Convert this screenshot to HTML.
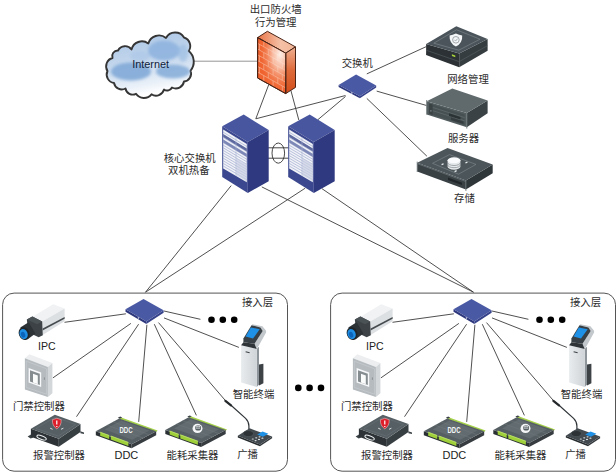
<!DOCTYPE html>
<html><head><meta charset="utf-8"><title>Network topology</title>
<style>
html,body{margin:0;padding:0;background:#fff;}
body{width:616px;height:472px;overflow:hidden;font-family:"Liberation Sans","Noto Sans CJK SC",sans-serif;}
svg{display:block;}
svg text{font-family:"Liberation Sans","Noto Sans CJK SC",sans-serif;}
</style></head><body>
<svg width="616" height="472" viewBox="0 0 616 472">
<defs><linearGradient id="cloudg" x1="0" y1="0" x2="0.25" y2="1"><stop offset="0" stop-color="#a9c5e5"/><stop offset="0.5" stop-color="#c3d6ec"/><stop offset="0.85" stop-color="#e9f0f8"/><stop offset="1" stop-color="#ffffff"/></linearGradient><clipPath id="cloudclip"><path d="M107.5,71.0 A8.6,8.6 0 0 1 112.5,58.0 A5.6,5.6 0 0 1 118.0,50.5 A7.9,7.9 0 0 1 131.5,49.5 A10.7,10.7 0 0 1 148.3,43.5 A11.1,11.1 0 0 1 166.0,38.0 A10.4,10.4 0 0 1 184.0,37.5 A8.9,8.9 0 0 1 188.7,51.0 A13.9,13.9 0 0 1 190.4,70.8 A7.7,7.7 0 0 1 184.0,81.5 A8.3,8.3 0 0 1 172.0,87.5 A5.4,5.4 0 0 1 164.0,89.5 A8.3,8.3 0 0 1 151.5,94.3 A9.6,9.6 0 0 1 136.0,93.8 A7.3,7.3 0 0 1 125.5,88.5 A7.9,7.9 0 0 1 114.0,83.0 A8.5,8.5 0 0 1 107.5,71.0 Z"/></clipPath><filter id="b2" x="-20%" y="-20%" width="140%" height="140%"><feGaussianBlur stdDeviation="1.6"/></filter><radialGradient id="fwhl" gradientUnits="userSpaceOnUse" cx="280" cy="54" r="34" gradientTransform="translate(280 54) scale(0.62 1.15) translate(-280 -54)"><stop offset="0" stop-color="#fff6f0" stop-opacity="0.95"/><stop offset="0.35" stop-color="#fbd9c8" stop-opacity="0.75"/><stop offset="0.75" stop-color="#f39a74" stop-opacity="0.3"/><stop offset="1" stop-color="#ee6332" stop-opacity="0"/></radialGradient><linearGradient id="fwtop" x1="0" y1="0" x2="1" y2="0"><stop offset="0" stop-color="#ea7446"/><stop offset="0.6" stop-color="#f4c0a6"/><stop offset="1" stop-color="#f3b596"/></linearGradient><linearGradient id="fwside" x1="0" y1="0" x2="0" y2="1"><stop offset="0" stop-color="#f0b192"/><stop offset="0.5" stop-color="#de6a3a"/><stop offset="1" stop-color="#d24d1a"/></linearGradient><linearGradient id="kioskg" x1="0" y1="0" x2="1" y2="0"><stop offset="0" stop-color="#e9ecee"/><stop offset="1" stop-color="#cfd4d8"/></linearGradient><g id="panel"><rect x="2.6" y="293.1" width="284.9" height="178.1" rx="11.5" ry="11.5" fill="#fff" stroke="#555" stroke-width="1"/><line x1="125.9" y1="313.8" x2="64.5" y2="322.3" stroke="#3c3c3c" stroke-width="0.9"/><line x1="130.9" y1="323.4" x2="52.9" y2="377.9" stroke="#3c3c3c" stroke-width="0.9"/><line x1="138.6" y1="324.2" x2="76.5" y2="416.7" stroke="#3c3c3c" stroke-width="0.9"/><line x1="146.9" y1="324.8" x2="138.7" y2="421.9" stroke="#3c3c3c" stroke-width="0.9"/><line x1="154.3" y1="324.2" x2="196.4" y2="415.4" stroke="#3c3c3c" stroke-width="0.9"/><line x1="158.5" y1="322.6" x2="225.6" y2="400.8" stroke="#3c3c3c" stroke-width="0.9"/><line x1="164.0" y1="317.9" x2="238.9" y2="347.4" stroke="#3c3c3c" stroke-width="0.9"/><line x1="164.0" y1="311.0" x2="200.4" y2="319.3" stroke="#3c3c3c" stroke-width="0.9"/><polygon points="125.5,309.3 146.3,321.5 146.3,324.0 125.5,311.8" fill="#2c377c" /><polygon points="146.3,321.5 163.6,310.3 163.6,312.8 146.3,324.0" fill="#36428a" /><polygon points="125.5,309.3 143.5,299.0 163.6,310.3 146.3,321.5" fill="#4a59a3" /><circle cx="138.4" cy="318.0" r="0.7" fill="#e8ebf5"/><circle cx="211.5" cy="319.8" r="3.3" fill="#000"/><circle cx="222.8" cy="319.8" r="3.3" fill="#000"/><circle cx="234.2" cy="319.8" r="3.3" fill="#000"/><text x="257.5" y="306.0" font-size="10.4" text-anchor="middle" fill="#2c2c2c" stroke="none">接入层</text><g id="cam"><polygon points="32.6,316.8 53.2,304.2 64.6,308.5 42.2,321.6" fill="#f0f2f4" /><polygon points="42.2,321.6 64.6,308.5 64.6,321.2 42.6,335.0" fill="#dde0e3" /><polygon points="42.6,328.6 64.6,317.0 64.6,318.8 42.6,330.6" fill="#454b4f" /><polygon points="26.8,319.6 32.4,316.6 42.2,321.4 42.8,335.2 38.7,337.2 28.6,332.6" fill="#3c4246" /><polygon points="32.4,316.6 42.2,321.4 37.2,324.2 26.8,319.6" fill="#4b5256" /><polygon points="20.3,327.4 28.6,322.3 35.5,333.5 27.4,339.6" fill="#2c3236" /><ellipse cx="24.1" cy="333.6" rx="5.3" ry="6.6" fill="#1f2529" transform="rotate(-22 24.1 333.6)"/><ellipse cx="23.6" cy="334.0" rx="4.0" ry="5.2" fill="#1f8fe6" transform="rotate(-22 23.6 334.0)"/><ellipse cx="23.1" cy="334.7" rx="2.1" ry="3.0" fill="#0c64ba" transform="rotate(-22 23.1 334.7)"/></g><text x="46.9" y="350.0" font-size="10.6" text-anchor="middle" fill="#222" stroke="none">IPC</text><g id="door"><polygon points="24.9,358.2 29.3,354.3 52.4,363.0 47.9,366.9" fill="#eceeef" /><polygon points="47.9,366.9 52.4,363.0 52.4,393.2 47.9,397.0" fill="#d3d7d9" /><polygon points="24.9,358.2 47.9,366.9 47.9,397.0 24.9,389.4" fill="#b5bbbf" /><polygon points="26.3,361.2 46.5,368.8 46.5,394.2 26.3,387.4" fill="none" stroke="#c9ced1" stroke-width="0.6"/><polygon points="28.6,368.0 41.2,372.6 41.2,387.0 28.6,382.4" fill="#f7f8f9" /><polygon points="30.0,370.2 39.8,373.8 39.8,385.0 30.0,381.4" fill="#868d91" /><polygon points="33.0,373.8 37.8,375.5 37.8,384.3 33.0,382.6" fill="#fafbfb" /><path d="M44.4,377.4 v2.4" stroke="#80878b" stroke-width="0.8"/></g><text x="38.9" y="409.9" font-size="10.4" text-anchor="middle" fill="#2c2c2c" stroke="none">门禁控制器</text><g id="alarm"><polygon points="27.6,436.4 31.0,434.6 33.5,437.6 30.6,438.4" fill="#3b4246" /><polygon points="80.4,431.2 84.0,432.6 84.0,434.0 80.4,433.2" fill="#3b4246" /><polygon points="30.9,428.8 58.8,438.7 58.8,446.7 30.9,436.8" fill="#2c3235" /><polygon points="58.8,438.7 80.5,423.9 80.5,431.9 58.8,446.7" fill="#383f43" /><polygon points="30.9,428.8 54.8,414.7 80.5,423.9 58.8,438.7" fill="#565f63" /><polygon points="36.0,428.5 55.2,417.2 75.6,424.5 58.2,436.0" fill="none" stroke="#69727a" stroke-width="0.5"/><path d="M56.8,418.3 l4.4,1.4 q0.4,6 -4.4,9.2 q-4.8,-3.2 -4.4,-9.2 z" fill="#dc1f2b" stroke="#f6d4d4" stroke-width="0.5"/><path d="M56.8,420.6 v4 M56.8,425.9 v1.1" stroke="#fff" stroke-width="1.2"/><path d="M50.2,428.2 l2.4,1.1 M63.4,428.2 l-2.4,1.1" stroke="#e8ecee" stroke-width="0.9"/><ellipse cx="41.6" cy="437.6" rx="5" ry="1.7" fill="none" stroke="#eef0f1" stroke-width="1" transform="rotate(21 41.6 437.6)"/></g><text x="59.0" y="459.0" font-size="10.4" text-anchor="middle" fill="#2c2c2c" stroke="none">报警控制器</text><g transform="translate(0 0.6)"><polygon points="121.2,416.9 157.6,430.0 156.2,431.4 119.4,418.4" fill="#a4d148" /><polygon points="95.8,430.6 131.6,443.6 131.6,447.6 95.8,434.6" fill="#2a3033" /><polygon points="131.6,443.6 156.2,430.6 156.2,434.6 131.6,447.6" fill="#363c40" /><polygon points="95.8,430.6 119.2,417.8 156.2,430.6 131.6,443.6" fill="#555e62" /><polygon points="117.8,417.2 120.2,416.0 122.2,416.8 119.8,418.1" fill="#3b4246" /><polygon points="104.5,429.0 121.2,419.9 149.5,429.8 132.2,439.2" fill="#626b6f" /><path d="M107,424.6 L143.5,437.6 M113,421.3 L149.5,434.2" stroke="#70797d" stroke-width="0.5"/><polygon points="100.2,431.4 109.2,434.7 109.2,438.5 100.2,435.2" fill="#9fd03a" /><polygon points="110.8,435.2 128.4,441.6 128.4,445.4 110.8,439.0" fill="#9fd03a" /><path d="M100.2,431.6 L109.2,434.9 M110.8,435.4 L128.4,441.8" stroke="#c6e877" stroke-width="0.7"/><text transform="translate(119.4 432.4) scale(0.707 1)" x="0" y="0" font-size="8.6" font-weight="bold" fill="#f4f6f7" stroke="none">DDC</text></g><text x="126.4" y="458.7" font-size="11.0" text-anchor="middle" fill="#222" stroke="none">DDC</text><g transform="translate(69.5 -0.6)"><polygon points="121.2,416.9 157.6,430.0 156.2,431.4 119.4,418.4" fill="#a4d148" /><polygon points="95.8,430.6 131.6,443.6 131.6,447.6 95.8,434.6" fill="#2a3033" /><polygon points="131.6,443.6 156.2,430.6 156.2,434.6 131.6,447.6" fill="#363c40" /><polygon points="95.8,430.6 119.2,417.8 156.2,430.6 131.6,443.6" fill="#555e62" /><polygon points="117.8,417.2 120.2,416.0 122.2,416.8 119.8,418.1" fill="#3b4246" /><polygon points="104.5,429.0 121.2,419.9 149.5,429.8 132.2,439.2" fill="#626b6f" /><path d="M107,424.6 L143.5,437.6 M113,421.3 L149.5,434.2" stroke="#70797d" stroke-width="0.5"/><polygon points="100.2,431.4 109.2,434.7 109.2,438.5 100.2,435.2" fill="#9fd03a" /><polygon points="110.8,435.2 128.4,441.6 128.4,445.4 110.8,439.0" fill="#9fd03a" /><path d="M100.2,431.6 L109.2,434.9 M110.8,435.4 L128.4,441.8" stroke="#c6e877" stroke-width="0.7"/><ellipse cx="128.0" cy="429.0" rx="5.0" ry="4.6" fill="#f4f6f7"/><ellipse cx="128.6" cy="428.5" rx="3.0" ry="2.6" fill="#555e62"/><path d="M126.2,428.7 h4.6 M126.6,427.4 q2,-1.4 4,0" stroke="#f4f6f7" stroke-width="0.8" fill="none"/></g><text x="192.5" y="458.6" font-size="10.4" text-anchor="middle" fill="#2c2c2c" stroke="none">能耗采集器</text><g id="kiosk"><polygon points="259.0,364.6 263.4,363.8 263.4,383.2 259.0,385.4" fill="#3c4246" /><polygon points="256.7,349.0 259.0,346.7 259.0,384.6 256.7,386.9" fill="#8f969b" /><polygon points="241.1,345.3 256.7,349.0 256.7,386.9 241.1,382.4" fill="url(#kioskg)" /><polygon points="252.3,324.2 262.4,326.2 266.1,330.7 266.1,332.6 259.3,344.8 256.7,349.0 254.5,343.8 262.7,331.1 260.5,327.4 251.5,325.2" fill="#c3c8cc" /><polygon points="251.5,325.2 260.5,327.4 262.7,331.1 254.5,343.8 243.4,342.3 243.4,338.6" fill="#394045" /><polygon points="243.4,342.3 254.5,343.8 256.7,349.0 241.1,345.3" fill="#2e3438" /><polygon points="250.8,327.4 259.7,329.2 253.0,338.6 245.6,336.6" fill="#1e90e6" /><path d="M245.6,351.8 l4,0.9" stroke="#3a4045" stroke-width="1.1"/></g><text x="253.5" y="398.4" font-size="10.4" text-anchor="middle" fill="#2c2c2c" stroke="none">智能终端</text><g id="mic"><path d="M231,405.3 L245.6,418.4 Q248.9,421.6 248.9,426 L248.9,431.5" fill="none" stroke="#2f3438" stroke-width="1.2"/><path d="M225.4,400.9 L231,405.3" stroke="#24282b" stroke-width="2.3" stroke-linecap="round"/><polygon points="237.8,435.7 260.0,444.6 260.0,446.3 237.8,437.4" fill="#262b2e" /><polygon points="260.0,444.6 272.1,436.5 272.1,438.2 260.0,446.3" fill="#32383c" /><polygon points="237.8,435.7 249.6,428.3 272.1,436.5 260.0,444.6" fill="#434a4f" /><ellipse cx="248.3" cy="433.6" rx="5.2" ry="3" fill="#2c3236" stroke="#596267" stroke-width="0.5"/><polygon points="257.2,434.4 262.6,431.6 268.4,433.8 263.0,436.8" fill="#1e90e6" /><ellipse cx="252.8" cy="439" rx="1.1" ry="0.6" fill="#dfe4e7"/><ellipse cx="256.2" cy="437.8" rx="1.1" ry="0.6" fill="#dfe4e7"/><ellipse cx="259.6" cy="436.8" rx="1.1" ry="0.6" fill="#dfe4e7"/><ellipse cx="255.6" cy="440.6" rx="1.1" ry="0.6" fill="#dfe4e7"/><ellipse cx="259" cy="439.4" rx="1.1" ry="0.6" fill="#dfe4e7"/><ellipse cx="262.4" cy="438.2" rx="1.1" ry="0.6" fill="#dfe4e7"/></g><text x="247.6" y="458.0" font-size="10.4" text-anchor="middle" fill="#2c2c2c" stroke="none">广播</text></g></defs>
<rect width="616" height="472" fill="#fff"/>
<use href="#panel"/>
<use href="#panel" transform="translate(328 0)"/>
<g fill="#000"><circle cx="298.3" cy="387.9" r="3.3"/><circle cx="309.6" cy="387.9" r="3.3"/><circle cx="321" cy="387.9" r="3.3"/></g>
<g id="toplines"><line x1="193.0" y1="61.2" x2="258.0" y2="61.2" stroke="#8a8a8a" stroke-width="0.9"/><line x1="268.6" y1="85.0" x2="255.8" y2="118.8" stroke="#3c3c3c" stroke-width="0.9"/><line x1="290.9" y1="90.5" x2="298.8" y2="120.0" stroke="#3c3c3c" stroke-width="0.9"/><line x1="345.5" y1="95.5" x2="255.8" y2="118.8" stroke="#3c3c3c" stroke-width="0.9"/><line x1="345.5" y1="96.5" x2="317.5" y2="120.0" stroke="#3c3c3c" stroke-width="0.9"/><line x1="366.8" y1="73.9" x2="426.1" y2="46.7" stroke="#3c3c3c" stroke-width="0.9"/><line x1="376.7" y1="91.1" x2="426.6" y2="105.5" stroke="#3c3c3c" stroke-width="0.9"/><line x1="366.8" y1="98.4" x2="426.9" y2="156.2" stroke="#3c3c3c" stroke-width="0.9"/><line x1="231.2" y1="185.6" x2="145.5" y2="292.2" stroke="#3c3c3c" stroke-width="0.9"/><line x1="305.2" y1="188.2" x2="145.5" y2="292.2" stroke="#3c3c3c" stroke-width="0.9"/><line x1="261.8" y1="186.9" x2="473.5" y2="292.2" stroke="#3c3c3c" stroke-width="0.9"/><line x1="322.0" y1="188.7" x2="473.5" y2="292.2" stroke="#3c3c3c" stroke-width="0.9"/><line x1="268.0" y1="147.8" x2="288.5" y2="147.8" stroke="#333" stroke-width="0.9"/><line x1="268.0" y1="158.2" x2="288.5" y2="158.2" stroke="#333" stroke-width="0.9"/><ellipse cx="278.3" cy="153.1" rx="6.3" ry="10.1" fill="none" stroke="#333" stroke-width="0.9"/></g><g id="cloud"><path d="M107.5,71.0 A8.6,8.6 0 0 1 112.5,58.0 A5.6,5.6 0 0 1 118.0,50.5 A7.9,7.9 0 0 1 131.5,49.5 A10.7,10.7 0 0 1 148.3,43.5 A11.1,11.1 0 0 1 166.0,38.0 A10.4,10.4 0 0 1 184.0,37.5 A8.9,8.9 0 0 1 188.7,51.0 A13.9,13.9 0 0 1 190.4,70.8 A7.7,7.7 0 0 1 184.0,81.5 A8.3,8.3 0 0 1 172.0,87.5 A5.4,5.4 0 0 1 164.0,89.5 A8.3,8.3 0 0 1 151.5,94.3 A9.6,9.6 0 0 1 136.0,93.8 A7.3,7.3 0 0 1 125.5,88.5 A7.9,7.9 0 0 1 114.0,83.0 A8.5,8.5 0 0 1 107.5,71.0 Z" fill="url(#cloudg)" stroke="#353535" stroke-width="1.9" stroke-linejoin="round"/><g clip-path="url(#cloudclip)" filter="url(#b2)"><ellipse cx="131" cy="71.5" rx="20" ry="9" fill="#80a8d7" opacity="0.88"/><ellipse cx="173" cy="71.5" rx="17" ry="7" fill="#84abd8" opacity="0.85"/><ellipse cx="164" cy="50.5" rx="16" ry="10" fill="#8fb4df" opacity="0.9"/><ellipse cx="140" cy="56" rx="10" ry="5" fill="#a9c5e6" opacity="0.6"/><ellipse cx="183" cy="53" rx="5" ry="9" fill="#9dbde3" opacity="0.7"/></g><text x="150.6" y="67.5" font-size="10.9" text-anchor="middle" fill="#0f1c3a" stroke="none">Internet</text></g><g id="firewall" stroke="#4a2416" stroke-width="1" stroke-linejoin="round"><polygon points="257.6,37.6 267.4,31.3 295.5,46.9 285.7,53.2" fill="url(#fwtop)" /><polygon points="285.7,53.2 295.5,46.9 295.5,87.4 285.7,93.6" fill="url(#fwside)" /><polygon points="257.6,37.6 285.7,53.2 285.7,93.6 257.6,78.0" fill="#f0622e" /></g><g stroke="#f9c4aa" stroke-width="0.7" fill="none" opacity="0.9"><path d="M258.1,43.6 L285.2,58.8"/><path d="M258.1,49.3 L285.2,64.5"/><path d="M258.1,55.1 L285.2,70.3"/><path d="M258.1,60.9 L285.2,76.1"/><path d="M258.1,66.7 L285.2,81.9"/><path d="M258.1,72.4 L285.2,87.6"/><path d="M263.8,41.0 L263.8,46.8"/><path d="M273.1,46.2 L273.1,52.0"/><path d="M282.3,51.3 L282.3,57.1"/><path d="M259.3,44.3 L259.3,50.1"/><path d="M268.3,49.3 L268.3,55.1"/><path d="M277.8,54.6 L277.8,60.4"/><path d="M263.8,52.6 L263.8,58.3"/><path d="M273.1,57.7 L273.1,63.5"/><path d="M282.3,62.9 L282.3,68.6"/><path d="M259.3,55.9 L259.3,61.6"/><path d="M268.3,60.8 L268.3,66.6"/><path d="M277.8,66.1 L277.8,71.9"/><path d="M263.8,64.1 L263.8,69.9"/><path d="M273.1,69.3 L273.1,75.0"/><path d="M282.3,74.4 L282.3,80.2"/><path d="M259.3,67.4 L259.3,73.2"/><path d="M268.3,72.4 L268.3,78.2"/><path d="M277.8,77.7 L277.8,83.5"/><path d="M263.8,75.7 L263.8,81.4"/><path d="M273.1,80.8 L273.1,86.6"/><path d="M282.3,86.0 L282.3,91.7"/></g><polygon points="257.6,37.6 285.7,53.2 285.7,93.6 257.6,78.0" fill="url(#fwhl)" /><polygon points="257.6,37.6 285.7,53.2 285.7,93.6 257.6,78.0" fill="none" stroke="#4a2416" stroke-width="1" stroke-linejoin="round"/><text x="275.7" y="13.2" font-size="10.4" text-anchor="middle" fill="#2c2c2c" stroke="none">出口防火墙</text><text x="275.7" y="25.6" font-size="10.4" text-anchor="middle" fill="#2c2c2c" stroke="none">行为管理</text><g id="sw1"><polygon points="338.6,85.0 359.9,96.2 359.9,98.3 338.6,87.1" fill="#2c377c" /><polygon points="359.9,96.2 376.2,85.4 376.2,87.5 359.9,98.3" fill="#36428a" /><polygon points="338.6,85.0 356.1,74.4 376.2,85.4 359.9,96.2" fill="#4a59a3" /><circle cx="351.8" cy="93.0" r="0.7" fill="#e8ebf5"/></g><text x="357.3" y="66.5" font-size="10.4" text-anchor="middle" fill="#2c2c2c" stroke="none">交换机</text><g transform="translate(0 0)"><polygon points="222.2,126.3 243.7,114.6 268.7,129.9 247.8,142.0" fill="#48569f" /><polygon points="222.2,126.3 247.8,142.0 247.8,192.9 222.2,177.0" fill="#3b488f" /><polygon points="247.8,142.0 268.7,129.9 268.7,181.2 247.8,192.9" fill="#2e397f" /><polygon points="223.2,129.6 246.8,144.0 246.8,182.2 223.2,168.6" fill="#f0f2f7" /><path d="M223.2,132.2 L246.8,146.5" stroke="#949fca" stroke-width="0.6"/><path d="M223.2,134.8 L246.8,149.1" stroke="#949fca" stroke-width="0.6"/><path d="M223.2,137.4 L246.8,151.6" stroke="#949fca" stroke-width="0.6"/><path d="M223.2,140.0 L246.8,154.2" stroke="#949fca" stroke-width="0.6"/><path d="M223.2,142.6 L246.8,156.7" stroke="#949fca" stroke-width="0.6"/><path d="M223.2,145.2 L246.8,159.3" stroke="#949fca" stroke-width="0.6"/><path d="M223.2,147.8 L246.8,161.8" stroke="#949fca" stroke-width="0.6"/><path d="M223.2,150.4 L246.8,164.4" stroke="#949fca" stroke-width="0.6"/><path d="M223.2,153.0 L246.8,166.9" stroke="#949fca" stroke-width="0.6"/><path d="M223.2,155.6 L246.8,169.5" stroke="#949fca" stroke-width="0.6"/><path d="M223.2,158.2 L246.8,172.0" stroke="#949fca" stroke-width="0.6"/><path d="M223.2,160.8 L246.8,174.6" stroke="#949fca" stroke-width="0.6"/><path d="M223.2,163.4 L246.8,177.1" stroke="#949fca" stroke-width="0.6"/><path d="M223.2,166.0 L246.8,179.7" stroke="#949fca" stroke-width="0.6"/><polygon points="223.2,134.0 246.8,148.5 246.8,151.6 223.2,137.1" fill="#5e699f" /><polygon points="223.2,139.6 246.8,154.1 246.8,157.0 223.2,142.5" fill="#7d88b6" /><polygon points="236.5,158.0 246.8,164.3 246.8,181.5 236.5,175.2" fill="#c9cee2" opacity="0.7"/><path d="M236,137 L236,176" stroke="#aab2d4" stroke-width="0.6"/></g><g transform="translate(66 0)"><polygon points="222.2,126.3 243.7,114.6 268.7,129.9 247.8,142.0" fill="#48569f" /><polygon points="222.2,126.3 247.8,142.0 247.8,192.9 222.2,177.0" fill="#3b488f" /><polygon points="247.8,142.0 268.7,129.9 268.7,181.2 247.8,192.9" fill="#2e397f" /><polygon points="223.2,129.6 246.8,144.0 246.8,182.2 223.2,168.6" fill="#f0f2f7" /><path d="M223.2,132.2 L246.8,146.5" stroke="#949fca" stroke-width="0.6"/><path d="M223.2,134.8 L246.8,149.1" stroke="#949fca" stroke-width="0.6"/><path d="M223.2,137.4 L246.8,151.6" stroke="#949fca" stroke-width="0.6"/><path d="M223.2,140.0 L246.8,154.2" stroke="#949fca" stroke-width="0.6"/><path d="M223.2,142.6 L246.8,156.7" stroke="#949fca" stroke-width="0.6"/><path d="M223.2,145.2 L246.8,159.3" stroke="#949fca" stroke-width="0.6"/><path d="M223.2,147.8 L246.8,161.8" stroke="#949fca" stroke-width="0.6"/><path d="M223.2,150.4 L246.8,164.4" stroke="#949fca" stroke-width="0.6"/><path d="M223.2,153.0 L246.8,166.9" stroke="#949fca" stroke-width="0.6"/><path d="M223.2,155.6 L246.8,169.5" stroke="#949fca" stroke-width="0.6"/><path d="M223.2,158.2 L246.8,172.0" stroke="#949fca" stroke-width="0.6"/><path d="M223.2,160.8 L246.8,174.6" stroke="#949fca" stroke-width="0.6"/><path d="M223.2,163.4 L246.8,177.1" stroke="#949fca" stroke-width="0.6"/><path d="M223.2,166.0 L246.8,179.7" stroke="#949fca" stroke-width="0.6"/><polygon points="223.2,134.0 246.8,148.5 246.8,151.6 223.2,137.1" fill="#5e699f" /><polygon points="223.2,139.6 246.8,154.1 246.8,157.0 223.2,142.5" fill="#7d88b6" /><polygon points="236.5,158.0 246.8,164.3 246.8,181.5 236.5,175.2" fill="#c9cee2" opacity="0.7"/><path d="M236,137 L236,176" stroke="#aab2d4" stroke-width="0.6"/></g><text x="189.7" y="162.4" font-size="10.4" text-anchor="middle" fill="#2c2c2c" stroke="none">核心交换机</text><text x="188.8" y="174.3" font-size="10.4" text-anchor="middle" fill="#2c2c2c" stroke="none">双机热备</text><g id="netmgmt"><polygon points="426.1,44.0 459.2,53.6 459.2,67.2 426.1,55.0" fill="#2b3134" /><polygon points="459.2,53.6 487.6,38.9 487.6,50.8 459.2,67.2" fill="#363d41" /><polygon points="426.1,44.0 456.3,26.3 487.6,38.9 459.2,53.6" fill="#4a545a" /><path d="M426.1,50.2 L459.2,61.6 L487.6,45.6" stroke="#596267" stroke-width="0.6" fill="none"/><polygon points="433.8,43.2 456.5,29.8 480.0,39.2 458.8,50.2" fill="none" stroke="#8b9499" stroke-width="0.5"/><path d="M455.9,33.6 q3.2,1.6 6.3,1.8 q0.6,7.4 -6.3,11.2 q-6.9,-3.8 -6.3,-11.2 q3.1,-0.2 6.3,-1.8 z" fill="#f4f6f7"/><circle cx="455.9" cy="39.8" r="3.3" fill="none" stroke="#7f878c" stroke-width="0.7"/><path d="M454.4,39.8 l1.2,1.3 l2,-2.5" fill="none" stroke="#7f878c" stroke-width="0.6"/><polygon points="451.9,54.3 455.3,55.5 455.3,57.2 451.9,56.0" fill="#a6d23a" /></g><text x="468.0" y="82.7" font-size="10.4" text-anchor="middle" fill="#2c2c2c" stroke="none">网络管理</text><g id="server"><polygon points="426.7,101.2 466.8,113.0 466.8,127.2 426.7,114.4" fill="#525c5e" /><polygon points="466.8,113.0 487.6,100.5 487.6,113.3 466.8,127.2" fill="#3a4245" /><polygon points="426.7,101.2 452.3,88.5 487.6,100.5 466.8,113.0" fill="#606a6c" /><polygon points="429.2,103.4 464.6,114.6 464.6,125.0 429.2,113.8" fill="#465052" /><path d="M432.5,107.4 L464.6,117.6 M432.5,110.6 L464.6,120.8" stroke="#6e787b" stroke-width="0.5"/><polygon points="449.0,113.2 460.5,116.9 460.5,119.6 449.0,115.9" fill="#2c3335" /><polygon points="451.0,117.6 463.5,121.6 463.5,124.0 451.0,120.0" fill="#353c3f" /><polygon points="429.2,103.4 432.6,104.5 432.6,114.9 429.2,113.8" fill="#3a4244" /><circle cx="430.9" cy="110.8" r="0.9" fill="#707a7d"/><path d="M466.8,113.0 L466.8,128.6 M426.7,100.0 L426.7,114.6" stroke="#717b7e" stroke-width="0.9"/></g><text x="463.5" y="141.5" font-size="10.4" text-anchor="middle" fill="#2c2c2c" stroke="none">服务器</text><g id="storage"><polygon points="417.2,162.7 465.9,180.6 465.9,189.4 417.2,171.5" fill="#394145" /><polygon points="465.9,180.6 492.7,164.4 492.7,173.2 465.9,189.4" fill="#2f3639" /><polygon points="417.2,162.7 447.5,148.1 492.7,164.4 465.9,180.6" fill="#4c5559" /><path d="M417.2,163.6 L465.9,181.5" stroke="#6a7377" stroke-width="0.8"/><polygon points="432.5,163.3 449.5,154.6 476.0,164.4 458.5,174.2" fill="none" stroke="#8b9499" stroke-width="0.5"/><path d="M447.6,160.2 v6.6 a6.4,2.9 0 0 0 12.8,0 v-6.6 z" fill="#e6e9eb"/><path d="M447.6,162.6 a6.4,2.9 0 0 0 12.8,0 M447.6,164.8 a6.4,2.9 0 0 0 12.8,0" stroke="#70787d" stroke-width="0.6" fill="none"/><ellipse cx="454" cy="160.2" rx="6.4" ry="2.9" fill="#fafbfc"/><path d="M441.6,164.6 l2,-0.9 M465.4,163 l2,-0.9 M454.6,171.6 l2,-1" stroke="#f0f2f3" stroke-width="1.2"/><polygon points="448.0,177.6 462.0,182.7 462.0,185.0 448.0,179.9" fill="#20262a" /><path d="M465.9,180.6 L465.9,191 M417.2,161.6 L417.2,172" stroke="#6c7679" stroke-width="0.8"/></g><text x="464.5" y="202.4" font-size="10.4" text-anchor="middle" fill="#2c2c2c" stroke="none">存储</text>
</svg>
</body></html>
